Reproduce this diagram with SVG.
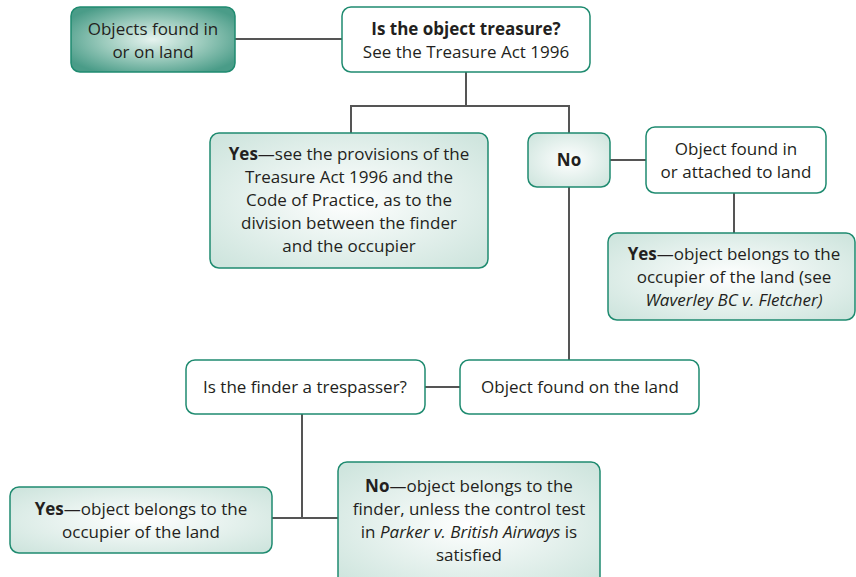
<svg xmlns="http://www.w3.org/2000/svg" width="856" height="577" viewBox="0 0 856 577">
<defs>
<radialGradient id="gLight" cx="50%" cy="50%" r="65%">
<stop offset="0" stop-color="#ffffff"/>
<stop offset="1" stop-color="#cfe5de"/>
</radialGradient>
<radialGradient id="gDark" cx="50%" cy="50%" r="60%">
<stop offset="0" stop-color="#e6f3ef"/>
<stop offset="0.5" stop-color="#9ccbbd"/>
<stop offset="1" stop-color="#4a9c88"/>
</radialGradient>
</defs>
<style>
.box{stroke:#1f8b70;stroke-width:1.5}
.white{fill:#ffffff}
.light{fill:url(#gLight)}
.dark{fill:url(#gDark)}
.conn{stroke:#555555;stroke-width:2;fill:none}
text{font-family:"Open Sans","Noto Sans","Liberation Sans",sans-serif;font-size:17px;fill:#231f20;text-anchor:middle}
.b{font-weight:bold}
.i{font-style:italic}
</style>
<g id="connectors">
<line class="conn" x1="235" y1="39" x2="342" y2="39"/>
<polyline class="conn" points="466,72 466,106"/>
<polyline class="conn" points="351,133 351,106 569,106 569,133"/>
<line class="conn" x1="610" y1="160" x2="646" y2="160"/>
<line class="conn" x1="734" y1="193" x2="734" y2="233"/>
<line class="conn" x1="569" y1="187" x2="569" y2="360"/>
<line class="conn" x1="425" y1="387" x2="460" y2="387"/>
<line class="conn" x1="302" y1="414" x2="302" y2="518"/>
<line class="conn" x1="272" y1="518" x2="338" y2="518"/>
</g>
<g id="n-objects">
<rect class="box dark" x="71" y="7" width="164" height="65" rx="9"/>
<text x="153" y="35">Objects found in</text>
<text x="153" y="58">or on land</text>
</g>
<g id="n-treasure">
<rect class="box white" x="342" y="7" width="248" height="65" rx="9"/>
<text x="466" y="35"><tspan class="b">Is the object treasure?</tspan></text>
<text x="466" y="58">See the Treasure Act 1996</text>
</g>
<g id="n-yes1">
<rect class="box light" x="210" y="133" width="278" height="135" rx="9"/>
<text x="349" y="160"><tspan class="b">Yes</tspan>—see the provisions of the</text>
<text x="349" y="183">Treasure Act 1996 and the</text>
<text x="349" y="206">Code of Practice, as to the</text>
<text x="349" y="229">division between the finder</text>
<text x="349" y="252">and the occupier</text>
</g>
<g id="n-no1">
<rect class="box light" x="528" y="133" width="82" height="54" rx="9"/>
<text x="569" y="166" class="b">No</text>
</g>
<g id="n-attached">
<rect class="box white" x="646" y="127" width="180" height="66" rx="9"/>
<text x="736" y="155">Object found in</text>
<text x="736" y="178">or attached to land</text>
</g>
<g id="n-yes2">
<rect class="box light" x="608" y="233" width="247" height="87" rx="9"/>
<text x="734" y="260"><tspan class="b">Yes</tspan>—object belongs to the</text>
<text x="734" y="283">occupier of the land (see</text>
<text x="734" y="306"><tspan class="i">Waverley BC v. Fletcher)</tspan></text>
</g>
<g id="n-onland">
<rect class="box white" x="460" y="360" width="239" height="54" rx="9"/>
<text x="580" y="393">Object found on the land</text>
</g>
<g id="n-trespasser">
<rect class="box white" x="186" y="360" width="239" height="54" rx="9"/>
<text x="305" y="393">Is the finder a trespasser?</text>
</g>
<g id="n-yes3">
<rect class="box light" x="10" y="487" width="262" height="66" rx="9"/>
<text x="141" y="515"><tspan class="b">Yes</tspan>—object belongs to the</text>
<text x="141" y="538">occupier of the land</text>
</g>
<g id="n-no2">
<rect class="box light" x="338" y="462" width="262" height="125" rx="9"/>
<text x="469" y="492"><tspan class="b">No</tspan>—object belongs to the</text>
<text x="469" y="515">finder, unless the control test</text>
<text x="469" y="538">in <tspan class="i">Parker v. British Airways</tspan> is</text>
<text x="469" y="561">satisfied</text>
</g>
</svg>
